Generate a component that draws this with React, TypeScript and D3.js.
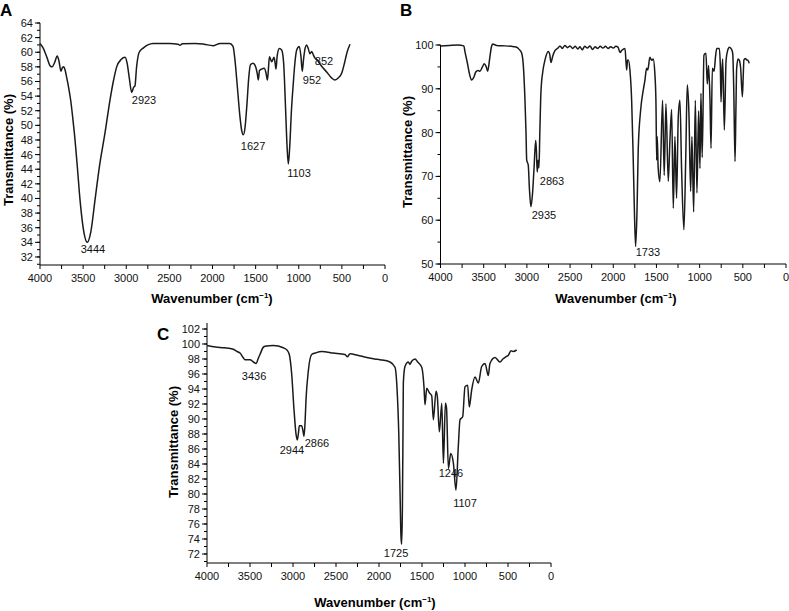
import React from "react";
import * as d3 from "d3";

// ---------- DATA ----------
const wnA = [4000,3960,3920,3880,3860,3830,3800,3780,3757,3740,3725,3710,3690,3670,3645,3620,3602,3567,3536,3490,3452,3413,3362,3312,3246,3188,3150,3111,3060,3014,2990,2965,2937,2915,2899,2880,2850,2800,2750,2690,2500,2400,2377,2350,2200,2100,1994,1913,1800,1762,1740,1710,1680,1660,1643,1625,1600,1580,1560,1530,1500,1480,1469,1455,1430,1400,1380,1363,1350,1340,1313,1287,1275,1264,1250,1225,1198,1175,1155,1135,1121,1105,1085,1063,1045,1024,994,975,959,945,925,909,890,870,850,830,812,790,754,715,676,620,580,540,500,470,440,406];
const tA = [61.2,60.5,59.3,58.1,58.0,58.6,59.5,58.8,57.4,57.9,58.0,57.6,56.5,55.3,53.5,51.0,49.0,44.3,39.8,35.3,34.0,35.3,39.8,44.3,49.0,53.5,56.0,58.0,59.0,59.3,58.5,56.5,54.5,55.2,55.4,58.0,60.0,60.6,61.0,61.2,61.2,61.1,60.95,61.15,61.2,61.1,60.9,61.2,61.2,60.8,59.0,55.0,51.0,49.2,48.7,49.5,53.0,56.5,58.3,58.5,58.0,57.0,56.2,57.5,57.7,57.8,57.2,56.2,58.0,59.4,58.7,59.3,58.6,57.7,59.5,60.5,60.3,58.5,53.0,47.0,44.7,47.0,52.0,55.8,58.5,60.3,60.8,59.5,57.4,59.0,60.6,61.0,60.5,59.8,60.1,59.6,59.2,59.0,58.4,57.8,57.3,56.5,56.2,56.5,57.2,58.5,60.0,61.1];

const wnB = [4000,3900,3800,3730,3717,3690,3660,3640,3615,3590,3565,3543,3515,3493,3470,3454,3430,3410,3396,3350,3250,3150,3118,3090,3060,3040,3022,3010,3002,2984,2970,2953,2935,2918,2898,2890,2880,2870,2860,2850,2837,2815,2790,2752,2735,2721,2700,2675,2640,2617,2590,2560,2530,2500,2470,2440,2410,2385,2360,2330,2300,2270,2240,2210,2180,2150,2120,2090,2060,2030,2000,1970,1945,1922,1900,1864,1845,1835,1826,1807,1787,1770,1755,1741,1725,1711,1683,1650,1633,1614,1600,1576,1555,1537,1520,1506,1497,1491,1480,1460,1429,1410,1390,1363,1344,1324,1305,1286,1267,1247,1228,1209,1182,1160,1143,1124,1104,1089,1069,1050,1031,1012,996,985,970,950,927,911,896,880,868,853,833,815,802,772,760,752,742,733,714,694,675,655,630,617,605,590,580,571,555,540,525,505,495,487,470,456,440,426];
const tB = [99.8,99.9,100.0,99.8,98.5,96,93,92.0,92.6,93.9,94.2,94.0,95,95.7,95.0,94.0,97,99.6,100.2,99.9,99.8,99.6,99.5,99.0,98.1,95,87.4,80,73.7,72.6,67,63.1,66,71.5,78.2,76,71.0,73.7,72,80,89.3,94,96.6,98.5,97.8,96.0,97.5,98.7,99.3,99.8,99.2,99.9,99.4,99.8,99.2,99.7,99.1,99.6,98.9,99.7,99.3,99.8,99.0,99.6,99.2,99.7,99.3,99.7,99.2,99.6,99.3,99.7,99.5,98.3,98.8,99.2,94.3,96.5,96.6,94.3,87.4,75,62,54.0,62,76.0,85.1,90,92.0,94.7,94.3,97.2,96.5,96.8,94,87.4,73.7,79.1,72,68.8,87.4,70.2,86.6,68.9,78.1,85.3,62.7,79.1,65.0,83.7,87.4,71.8,57.8,75,90.9,84.5,66.6,79.1,61.9,87.4,66.2,85.0,71.8,89.0,74.3,97.7,98.1,91.1,95.3,87.4,76.4,94.7,94.0,97.5,99.2,99.2,95,87.0,94,96.8,80.6,96.4,98.8,99.5,99.0,98.1,90,73.4,85,94.7,96.8,96.5,94.7,88.2,93,96.6,96.9,96.6,96.5,95.8];

const wnC = [4000,3900,3800,3694,3650,3616,3580,3558,3500,3460,3430,3400,3384,3350,3326,3229,3113,3070,3043,3016,2988,2965,2950,2938,2926,2900,2885,2872,2860,2849,2822,2783,2740,2666,2531,2395,2369,2337,2250,2143,2050,1988,1872,1814,1790,1770,1755,1745,1737,1728,1720,1717,1698,1659,1640,1620,1581,1550,1503,1477,1465,1445,1415,1387,1368,1337,1322,1298,1270,1251,1228,1215,1193,1166,1135,1105,1078,1058,1027,1000,969,950,922,884,845,806,767,729,710,651,593,560,525,496,465,440,399];
const tC = [99.8,99.6,99.5,99.3,99.0,98.8,98.2,97.9,97.9,97.6,97.4,98.2,98.6,99.5,99.7,99.8,99.5,99.2,98.6,96.1,91.2,88.0,87.2,88.0,89.1,89.1,88.5,87.7,89.5,92.5,96.4,98.6,98.8,99.0,98.8,98.6,98.3,98.7,98.5,98.2,98.0,97.9,97.6,96.9,94,88,80,74.5,73.3,78,90,94.8,97.0,97.6,97.3,97.7,98.0,97.6,96.9,94.3,91.9,94.1,93.5,93.1,89.9,93.7,93.0,88.3,92.1,84.1,92.1,91.5,83.4,85.4,84.1,80.5,86.3,89.9,90.3,94.3,94.5,91.6,93.9,95.6,94.8,97.0,97.4,95.8,97.4,98.2,97.6,98.0,98.3,98.5,99.1,99.0,99.2];

// tick values
const xMajorTicks = [4000,3500,3000,2500,2000,1500,1000,500,0];
const yTicksA = [32,34,36,38,40,42,44,46,48,50,52,54,56,58,60,62,64];
const yTicksB = [50,60,70,80,90,100];
const yTicksC = [72,74,76,78,80,82,84,86,88,90,92,94,96,98,100,102];

// peak annotations: [label, wavenumber, transmittance]
const peaksA: [string, number, number][] = [["3444",3386,32.55],["2923",2794,52.9],["1627",1530,46.6],["1103",997,42.9],["952",846,55.66],["852",707,58.26]];
const peaksB: [string, number, number][] = [["2935",2802,60.3],["2863",2709,68.0],["1733",1598,51.8]];
const peaksC: [string, number, number][] = [["3436",3453,95.2],["2944",3012,85.3],["2866",2721,86.3],["1725",1802,71.6],["1246",1163,82.3],["1107",1000,78.3]];

const FONT = "'Liberation Sans', Arial, Helvetica, sans-serif";

type PanelProps = {
  letter: string;
  letterX: number; letterY: number;
  left: number; right: number; top: number; bottom: number;
  yDomain: [number, number];
  yTicks: number[];
  yMinorStep: number;
  wn: number[]; t: number[];
  peaks: [string, number, number][];
  yLabelX: number; yLabelY: number;
  xLabelX: number; xLabelY: number;
};

function Panel(p: PanelProps) {
  const x = d3.scaleLinear().domain([4000, 0]).range([p.left, p.right]);
  const y = d3.scaleLinear().domain(p.yDomain).range([p.bottom, p.top]);
  const pts = p.wn.map((w, i) => [w, p.t[i]] as [number, number]);
  const line = d3.line<[number, number]>().x(d => x(d[0])).y(d => y(d[1])).curve(d3.curveMonotoneX);
  const xMinor = d3.range(0, 4001, 250);
  const lo = Math.ceil(p.yDomain[0] / p.yMinorStep) * p.yMinorStep;
  const yMinor = d3.range(lo, p.yDomain[1] + 0.001, p.yMinorStep);
  return (
    <g fontFamily={FONT}>
      <text x={p.letterX} y={p.letterY} fontSize={17} fontWeight="bold">{p.letter}</text>
      {/* axes */}
      <line x1={p.left} x2={p.left} y1={p.top} y2={p.bottom} stroke="#000" strokeWidth={1} />
      <line x1={p.left} x2={p.right} y1={p.bottom} y2={p.bottom} stroke="#000" strokeWidth={1} />
      {xMinor.map(v => (
        <line key={"xm" + v} x1={x(v)} x2={x(v)} y1={p.bottom} y2={p.bottom + 4} stroke="#000" strokeWidth={1} />
      ))}
      {xMajorTicks.map(v => (
        <text key={"xl" + v} x={x(v)} y={p.bottom + 17} fontSize={11} textAnchor="middle" fill="#111">{v}</text>
      ))}
      {yMinor.map(v => (
        <line key={"ym" + v} x1={p.left - 3} x2={p.left} y1={y(v)} y2={y(v)} stroke="#000" strokeWidth={1} />
      ))}
      {p.yTicks.map(v => (
        <g key={"yt" + v}>
          <line x1={p.left - 5} x2={p.left} y1={y(v)} y2={y(v)} stroke="#000" strokeWidth={1} />
          <text x={p.left - 7} y={y(v) + 4} fontSize={11} textAnchor="end" fill="#111">{v}</text>
        </g>
      ))}
      <text transform={`translate(${p.yLabelX},${p.yLabelY}) rotate(-90)`} fontSize={13} fontWeight="bold" textAnchor="middle">Transmittance (%)</text>
      <text x={p.xLabelX} y={p.xLabelY} fontSize={13} fontWeight="bold" textAnchor="middle">
        Wavenumber (cm<tspan fontSize={8} dy={-5}>−1</tspan><tspan dy={5}>)</tspan>
      </text>
      <path d={line(pts) || ""} fill="none" stroke="#1a1a1a" strokeWidth={1.5} strokeLinejoin="round" />
      {p.peaks.map(([lab, w, v]) => (
        <text key={lab} x={x(w)} y={y(v)} fontSize={11} textAnchor="middle" fill="#111">{lab}</text>
      ))}
    </g>
  );
}

export default function App() {
  return (
    <svg width={789} height={611} style={{ position: "absolute", left: 0, top: 0, background: "#fff" }}>
      <rect width={789} height={611} fill="#fff" />
      <Panel letter="A" letterX={0} letterY={16} left={40} right={385} top={23} bottom={265}
        yDomain={[30.9, 64]} yTicks={yTicksA} yMinorStep={1} wn={wnA} t={tA} peaks={peaksA}
        yLabelX={13} yLabelY={150} xLabelX={212} xLabelY={303} />
      <Panel letter="B" letterX={400} letterY={16} left={440.5} right={786} top={45} bottom={264}
        yDomain={[50, 100]} yTicks={yTicksB} yMinorStep={5} wn={wnB} t={tB} peaks={peaksB}
        yLabelX={412} yLabelY={152} xLabelX={616} xLabelY={303} />
      <Panel letter="C" letterX={157} letterY={340} left={207} right={551} top={323} bottom={563}
        yDomain={[70.8, 102.8]} yTicks={yTicksC} yMinorStep={1} wn={wnC} t={tC} peaks={peaksC}
        yLabelX={178} yLabelY={442} xLabelX={375} xLabelY={607} />
    </svg>
  );
}
